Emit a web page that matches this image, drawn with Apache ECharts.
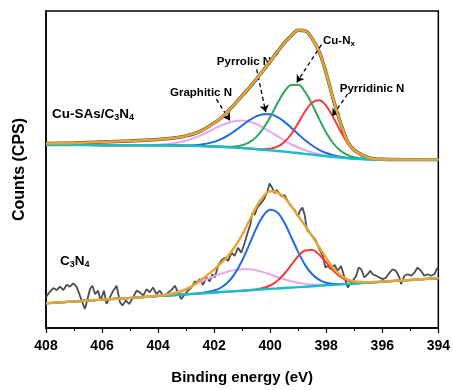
<!DOCTYPE html>
<html>
<head>
<meta charset="utf-8">
<script src="https://cdn.jsdelivr.net/npm/echarts@6/dist/echarts.min.js"></script>
<style>
html,body{margin:0;padding:0;background:#fff;}
#chart{width:453px;height:390px;}
</style>
</head>
<body>
<div id="chart"></div>
<script>
// binding energy grid for the fitted curves (eV)
var energy = [408,407,406,405,404,403.5,403,402.5,402,401.75,401.5,401.25,401,400.75,400.5,400.25,400,399.75,399.5,399.25,399,398.75,398.5,398.25,398,397.75,397.5,397.25,397,396.5,396,395,394];

// Cu-SAs/C3N4 (upper spectrum, offset)
var topBaseline  = [184.7,184.7,184.6,184.6,184.5,184.3,184,183.6,183.2,182.9,182.5,182.1,181.6,181.1,180.5,179.9,179.3,178.7,178,177.3,176.6,175.8,175,174.2,173.4,172.7,172,171.4,170.9,170.4,170.1,170,170];
var topGraphitic = [184.7,184.7,184.6,184.6,185.1,186.3,189.1,194.2,201.1,204.5,207.2,209.0,209.4,208.3,205.9,202.3,198.1,193.7,189.4,185.5,182.2,179.4,177.2,175.5,174.1,173.1,172.2,171.5,170.9,170.4,170.1,170,170];
var topPyrrolic  = [184.7,184.7,184.6,184.6,184.5,184.4,184.3,185.0,187.9,190.7,194.4,199.2,204.4,209.6,213.6,215.8,215.7,213.1,208.3,202.2,195.7,189.5,184.2,179.9,176.7,174.5,172.9,171.8,171.1,170.4,170.1,170,170];
var topCuNx      = [184.7,184.7,184.6,184.6,184.5,184.3,184,183.6,183.2,183.0,182.9,183.2,184.4,187.3,192.7,201.4,213.1,226.4,238.3,245.4,245.5,238.1,225.5,210.8,197.1,186.5,179.2,174.7,172.3,170.6,170.1,170,170];
var topPyridinic = [184.7,184.7,184.6,184.6,184.5,184.3,184,183.6,183.2,182.9,182.5,182.1,181.6,181.1,180.7,180.5,181.0,183.0,187.6,195.6,206.8,218.8,227.7,230.0,224.3,212.7,199.2,187.3,178.9,171.7,170.2,170,170];
var topEnvelope  = [186.3,186.8,187.7,188.8,190.3,191.5,194,198.5,207,212,219,226.5,234.5,242.5,251,260,269,278.5,287.5,295,300.5,300,292,279,257,231,208,189,179.5,172,170.3,170,170];

// C3N4 (lower spectrum)
var botBaseline  = [25,26.8,28.6,30.4,32.2,33.1,34.0,34.9,35.8,36.3,36.7,37.2,37.6,38.1,38.6,39.0,39.5,39.9,40.4,40.8,41.3,41.7,42.2,42.6,43.1,43.5,44.0,44.4,44.9,45.8,46.7,48.5,50.3];
var botGraphitic = [25,26.8,28.6,30.4,32.8,35.0,39.5,46.4,52.3,54.8,57.0,58.5,59.2,59.3,58.3,56.4,54.1,51.6,49.2,47.2,45.6,44.5,43.9,43.6,43.7,43.8,44.1,44.4,44.9,45.8,46.7,48.5,50.3];
var botPyrrolic  = [25,26.8,28.6,30.4,32.2,33.1,34.0,35.2,37.8,40.9,46.4,55.4,68.2,84.0,100.3,113.2,119.4,116.8,106.7,91.9,76.6,63.5,54.2,48.5,45.7,44.5,44.4,44.5,44.9,45.8,46.7,48.5,50.3];
var botPyridinic = [25,26.8,28.6,30.4,32.2,33.1,34.0,34.9,35.8,36.3,36.7,37.2,37.6,38.2,39.0,40.3,42.9,47.4,54.5,63.4,72.4,78.2,78.8,74.0,66.1,57.9,51.7,47.9,46.3,45.9,46.7,48.5,50.3];
var botEnvelope  = [25,26.8,28.6,30.4,32.5,34.5,39,48,59,65.5,73,82.5,94,108,122,132.5,138,137,132,123,113,103,92.5,81.5,70.5,60.5,53.5,49,47,46.3,46.9,48.5,50.3];

// raw C3N4 counts
var rawEnergy = [408.0,407.88,407.74,407.62,407.5,407.38,407.26,407.15,407.03,406.91,406.81,406.73,406.61,406.53,406.43,406.34,406.25,406.14,406.05,405.93,405.84,405.72,405.6,405.48,405.36,405.27,405.15,405.03,404.89,404.77,404.65,404.53,404.41,404.3,404.18,404.06,403.94,403.82,403.7,403.52,403.4,403.29,403.17,403.05,402.93,402.81,402.69,402.61,402.51,402.4,402.27,402.16,402.06,401.98,401.86,401.74,401.62,401.5,401.38,401.27,401.15,401.03,400.91,400.79,400.71,400.64,400.55,400.47,400.38,400.28,400.2,400.1,400.02,399.92,399.84,399.76,399.66,399.57,399.49,399.37,399.25,399.13,399.01,398.95,398.85,398.77,398.69,398.6,398.48,398.36,398.24,398.12,398.03,397.94,397.82,397.7,397.59,397.47,397.35,397.23,397.15,397.05,396.93,396.84,396.75,396.64,396.52,396.43,396.34,396.22,396.1,395.98,395.86,395.74,395.63,395.51,395.39,395.33,395.21,395.09,394.97,394.85,394.74,394.62,394.5,394.38,394.26,394.14,394.06,394.0];
var rawCounts = [31,36,40.3,38.3,41.7,38.3,43.7,41.7,45,41.7,34.3,27.7,19.3,27.7,39.3,42.7,34.3,37.7,27.7,37.7,24.3,31,37.7,42.7,26,22.7,27.7,24.3,31,37.7,36,32.7,39.3,36,41,34.3,37.7,32.7,34.3,38.5,42.7,36,29.3,34,37.7,41,47,46,49.3,43.5,51,47,54.3,51,62.7,68.3,71,67.7,76,72.7,81,76,86,97.7,104.3,116,114.3,121,124.3,127.7,131,137.7,146,141,136,139.3,135,132.7,134.3,127.7,122.7,119.3,112.7,117.7,121.7,114.3,99.3,96,92.7,87.7,79.3,72.7,61,62.7,59.3,63.7,57.7,62.7,51,41,44.3,47.7,52.7,61,59.3,51,54.3,57.7,54.3,52.7,51,49.3,51,56,59.3,57.7,51,44.3,52.7,54.3,52.7,56,61,57.7,52.7,54.3,52.7,54.3,59.3,61];

var xTicks = [408,406,404,402,400,398,396,394];

var FONT = 'Liberation Sans, Arial, sans-serif';

function pairs(xs, ys){
    var out = [];
    for(var i=0;i<xs.length;i++){
        out.push([xs[i], ys[i]]);
    }
    return out;
}

function fitLine(name, ys, color, width, z){
    return {
        name: name,
        type: 'line',
        data: pairs(energy, ys),
        smooth: 0.35,
        symbol: 'none',
        lineStyle: {color: color, width: width},
        z: z
    };
}

// rich text styles, subscripts sit below the baseline
function richStyle(size, subSize){
    return {
        m: {fontFamily: FONT, fontWeight: 'bold', fontSize: size, lineHeight: size + 3, fill: '#000'},
        s: {fontFamily: FONT, fontWeight: 'bold', fontSize: subSize, lineHeight: 5, fill: '#000', verticalAlign: 'bottom'}
    };
}

var arrowLines = [
    [{coord:[401.92,231]},{coord:[401.44,209.5]}],
    [{coord:[400.48,261]},{coord:[400.16,218]}],
    [{coord:[398.17,286]},{coord:[399.05,248]}],
    [{coord:[397.24,236]},{coord:[397.78,214]}]
];

var myChart = echarts.init(document.getElementById('chart'));

var option = {
    animation: false,
    grid: {
        left: 46,
        right: 14,
        top: 11,
        bottom: 59,
        show: true,
        borderColor: '#000',
        borderWidth: 1.5,
        backgroundColor: 'transparent'
    },
    xAxis: {
        type: 'value',
        min: 394,
        max: 408,
        interval: 2,
        inverse: true,
        name: 'Binding energy (eV)',
        nameLocation: 'middle',
        nameGap: 42,
        nameTextStyle: {fontFamily: FONT, fontWeight: 'bold', fontSize: 15, color: '#000'},
        axisLine: {show: true, lineStyle: {color: '#000', width: 1.5}},
        axisTick: {show: true, length: 5, lineStyle: {color: '#000', width: 1.2}},
        minorTick: {show: true, splitNumber: 2, length: 3, lineStyle: {color: '#000', width: 1}},
        axisLabel: {
            margin: 11,
            fontFamily: FONT,
            fontWeight: 'bold',
            fontSize: 14,
            color: '#000',
            formatter: function(v){ return xTicks.indexOf(v) >= 0 ? String(v) : ''; }
        },
        splitLine: {show: false}
    },
    yAxis: {
        type: 'value',
        min: 0,
        max: 320,
        name: 'Counts (CPS)',
        nameLocation: 'middle',
        nameGap: 18,
        nameTextStyle: {fontFamily: FONT, fontWeight: 'bold', fontSize: 16, color: '#000'},
        axisLine: {show: true, lineStyle: {color: '#000', width: 1.5}},
        axisTick: {show: false},
        axisLabel: {show: false},
        splitLine: {show: false}
    },
    series: [
        {
            name: 'C3N4 raw',
            type: 'line',
            data: pairs(rawEnergy, rawCounts),
            symbol: 'none',
            lineStyle: {color: '#4d4d4d', width: 1.8},
            z: 2
        },
        {
            name: 'Cu-SAs raw',
            type: 'line',
            data: pairs(energy, topEnvelope),
            smooth: 0.35,
            symbol: 'none',
            lineStyle: {color: '#4d4d4d', width: 3.4},
            z: 2
        },
        fitLine('Graphitic N', topGraphitic, '#E8A6F4', 2, 3),
        fitLine('Pyrrolic N', topPyrrolic, '#1F6BDF', 2, 3),
        fitLine('Cu-Nx', topCuNx, '#2EA65C', 2, 3),
        fitLine('Pyridinic N', topPyridinic, '#F23B3E', 2, 3),
        fitLine('Background', topBaseline, '#16BEC6', 2.4, 4),
        fitLine('Graphitic N 2', botGraphitic, '#E8A6F4', 2, 3),
        fitLine('Pyrrolic N 2', botPyrrolic, '#1F6BDF', 2, 3),
        fitLine('Pyridinic N 2', botPyridinic, '#F23B3E', 2, 3),
        fitLine('Background 2', botBaseline, '#16BEC6', 2.4, 4),
        fitLine('Envelope 2', botEnvelope, '#E8A630', 2.4, 5),
        {
            name: 'Envelope',
            type: 'line',
            data: pairs(energy, topEnvelope),
            smooth: 0.35,
            symbol: 'none',
            lineStyle: {color: '#E8A630', width: 2.4},
            z: 5,
            markLine: {
                silent: true,
                symbol: ['none', 'arrow'],
                symbolSize: 7,
                label: {show: false},
                lineStyle: {color: '#000', width: 1.3, type: [4, 3]},
                emphasis: {disabled: true},
                data: arrowLines
            }
        }
    ],
    graphic: [
        {
            type: 'text', x: 52, y: 114,
            style: {
                text: '{m|Cu-SAs/C}{s|3}{m|N}{s|4}',
                align: 'left', verticalAlign: 'middle',
                rich: richStyle(13.5, 9)
            }
        },
        {
            type: 'text', x: 60, y: 261,
            style: {
                text: '{m|C}{s|3}{m|N}{s|4}',
                align: 'left', verticalAlign: 'middle',
                rich: richStyle(13.5, 9)
            }
        },
        {
            type: 'text', x: 201, y: 93,
            style: {text: 'Graphitic N', align: 'center', verticalAlign: 'middle',
                font: 'bold 11.5px ' + FONT, fill: '#000'}
        },
        {
            type: 'text', x: 244, y: 62,
            style: {text: 'Pyrrolic N', align: 'center', verticalAlign: 'middle',
                font: 'bold 11.5px ' + FONT, fill: '#000'}
        },
        {
            type: 'text', x: 323, y: 41,
            style: {
                text: '{m|Cu-N}{s|x}',
                align: 'left', verticalAlign: 'middle',
                rich: richStyle(11.5, 8)
            }
        },
        {
            type: 'text', x: 372, y: 89,
            style: {text: 'Pyrridinic N', align: 'center', verticalAlign: 'middle',
                font: 'bold 11.5px ' + FONT, fill: '#000'}
        }
    ]
};
myChart.setOption(option);
</script>
</body>
</html>
